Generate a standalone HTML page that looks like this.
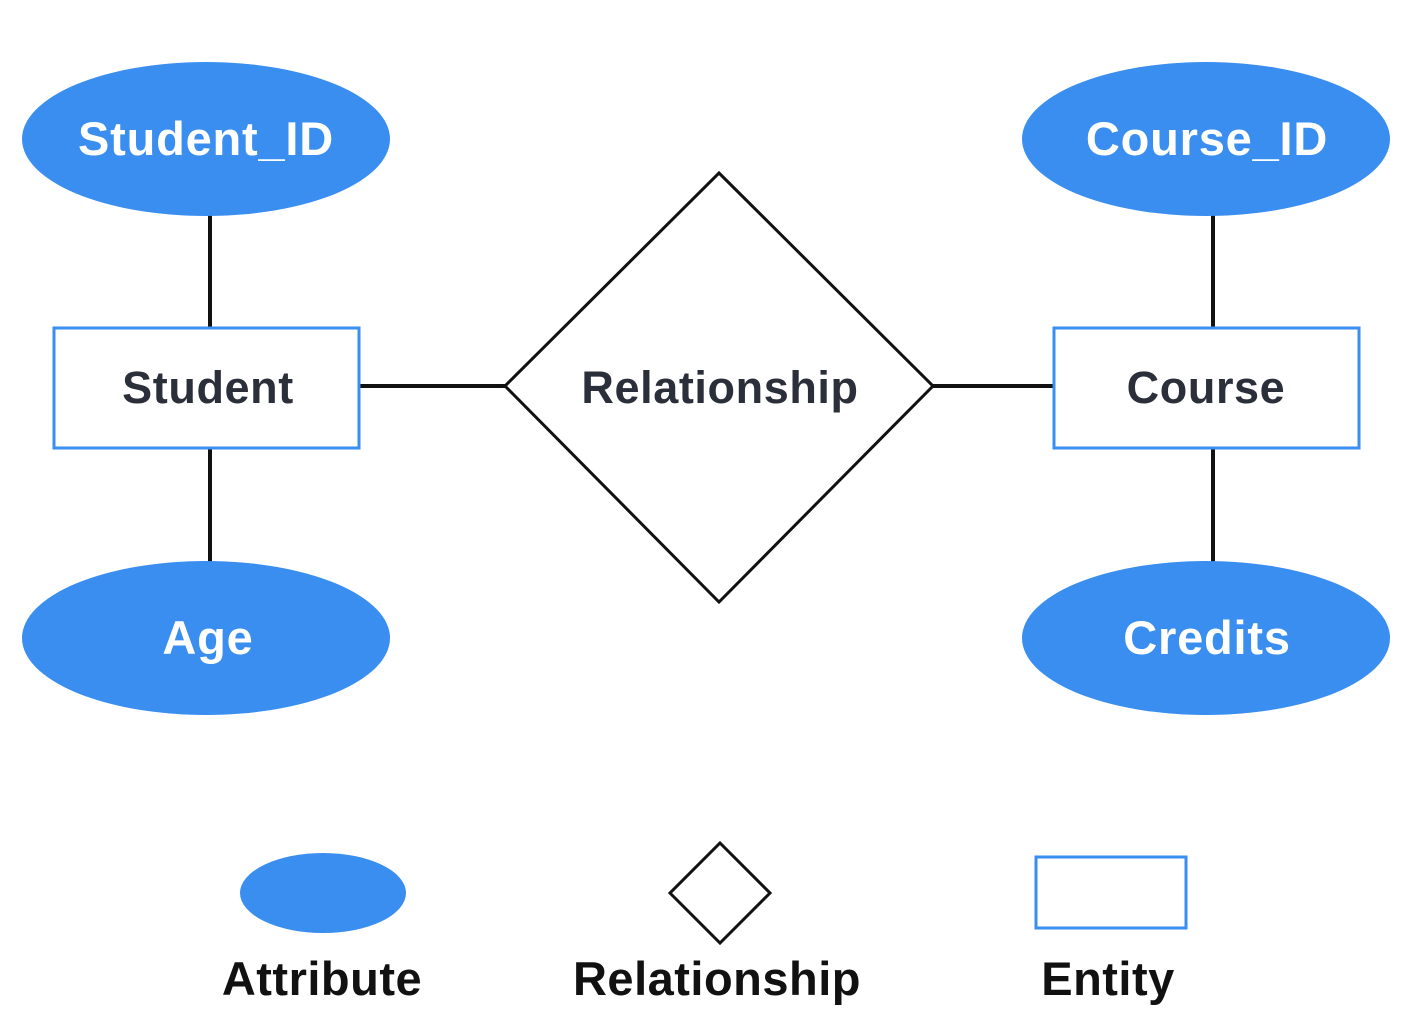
<!DOCTYPE html>
<html><head><meta charset="utf-8"><style>
html,body{margin:0;padding:0;background:#fff;}
svg{display:block;}
text{font-family:"Liberation Sans",sans-serif;}
</style></head><body>
<svg width="1410" height="1032" viewBox="0 0 1410 1032" xmlns="http://www.w3.org/2000/svg">
<g stroke="#111" stroke-width="4">
<line x1="210" y1="210" x2="210" y2="328"/>
<line x1="210" y1="448" x2="210" y2="565"/>
<line x1="1213" y1="210" x2="1213" y2="328"/>
<line x1="1213" y1="448" x2="1213" y2="565"/>
<line x1="359" y1="386" x2="505" y2="386"/>
<line x1="933" y1="386" x2="1054" y2="386"/>
</g>
<g fill="#3a8ef0">
<ellipse cx="206" cy="139" rx="184" ry="77"/>
<ellipse cx="206" cy="638" rx="184" ry="77"/>
<ellipse cx="1206" cy="139" rx="184" ry="77"/>
<ellipse cx="1206" cy="638" rx="184" ry="77"/>
<ellipse cx="323" cy="893" rx="83" ry="40"/>
</g>
<g fill="#fff" stroke="#3a8ef0" stroke-width="3">
<rect x="54" y="328" width="305" height="120"/>
<rect x="1054" y="328" width="305" height="120"/>
<rect x="1036" y="857" width="150" height="71"/>
</g>
<g fill="#fff" stroke="#111" stroke-width="3">
<polygon points="719,173 933,386 719,602 505,386"/>
<polygon points="720,843 770,893 720,943 670,893"/>
</g>
<g fill="#fff" font-size="47" font-weight="bold" text-anchor="middle" letter-spacing="0.8">
<text x="206" y="155">Student_ID</text>
<text x="208" y="654">Age</text>
<text x="1207" y="155">Course_ID</text>
<text x="1207" y="654">Credits</text>
</g>
<g fill="#2b2f3a" font-size="45" font-weight="bold" text-anchor="middle" letter-spacing="0.6">
<text x="208" y="403">Student</text>
<text x="1206" y="403">Course</text>
<text x="720" y="403">Relationship</text>
</g>
<g fill="#111" font-size="47" font-weight="bold" text-anchor="middle" letter-spacing="0.5">
<text x="322" y="995">Attribute</text>
<text x="717" y="995">Relationship</text>
<text x="1108" y="995">Entity</text>
</g>
</svg>
</body></html>
